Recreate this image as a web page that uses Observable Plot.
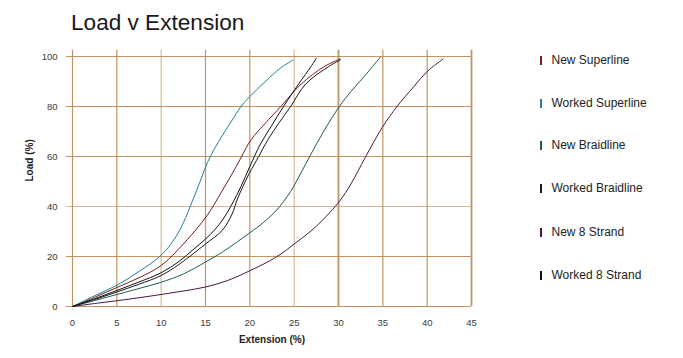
<!DOCTYPE html>
<html>
<head>
<meta charset="utf-8">
<script src="https://cdn.jsdelivr.net/npm/d3@7"></script>
<script src="https://cdn.jsdelivr.net/npm/@observablehq/plot@0.6"></script>
<style>
  html, body { margin: 0; padding: 0; background: #fff; }
  #wrap { position: relative; width: 683px; height: 358px; overflow: hidden; font-family: "Liberation Sans", Arial, sans-serif; }
  #title { position: absolute; left: 71px; top: 12px; font-size: 22.6px; line-height: 22px; color: #1a1a1a; white-space: nowrap; }
  .leg { position: absolute; left: 540px; font-size: 12px; line-height: 14px; color: #222; white-space: nowrap; }
  .leg .mk { display: inline-block; width: 1.5px; height: 9px; margin-right: 10px; vertical-align: -1px; }
  #chart { position: absolute; left: 0; top: 0; }
</style>
</head>
<body>
<div id="wrap">
  <div id="chart"></div>
  <div id="title">Load v Extension</div>
  <div id="legend"></div>
</div>
<script>
// ---- Data ----
const chartTitle = "Load v Extension";
const xLabel = "Extension (%)";
const yLabel = "Load (%)";
const xTicks = [0, 5, 10, 15, 20, 25, 30, 35, 40, 45];
const yTicks = [0, 20, 40, 60, 80, 100];

const seriesNames = ["New Superline", "Worked Superline", "New Braidline", "Worked Braidline", "New 8 Strand", "Worked 8 Strand"];
const seriesColors = ["#7a1e1e", "#23809a", "#1e5a5a", "#1a1a1a", "#4a1845", "#111111"];

const newSuperlineX = [0, 2.5, 5, 7.5, 10, 12.5, 15.2, 16.5, 17.8, 19, 20.1, 21.8, 23.5, 25.8, 28.4, 30.2];
const newSuperlineY = [0, 3.7, 7.6, 11.5, 16.4, 25, 36.5, 44, 51.8, 59.5, 66.5, 73.5, 80, 89, 96, 99];

const workedSuperlineX = [0, 2.5, 5, 7.5, 10, 11.5, 12.5, 13.5, 14.5, 15.2, 16, 17, 18, 19, 20, 21.6, 23.5, 24.9];
const workedSuperlineY = [0, 4.3, 8.5, 14, 20.5, 27, 33.5, 42, 51, 57.5, 63, 69, 74.5, 80, 84, 89.5, 95.5, 98.6];

const newBraidlineX = [0, 2.5, 5, 7.5, 10, 12.5, 15, 17, 20, 21.5, 23, 24.6, 25.7, 26.9, 28.4, 30.1, 31.4, 32.9, 34.7];
const newBraidlineY = [0, 2.4, 4.8, 7.2, 9.7, 13, 17.8, 22, 29.5, 33.5, 38.5, 46, 53, 61, 70.5, 80, 86, 92, 99.7];

const workedBraidlineX = [0, 2.5, 5, 7.5, 10, 12, 13.5, 15, 16.9, 18, 18.6, 19.9, 21, 22, 23.3, 24.6, 26.3, 28.9, 30.2];
const workedBraidlineY = [0, 2.8, 5.8, 8.9, 12.4, 16.8, 20.8, 25, 30.5, 37, 43, 53, 60, 66.5, 73.5, 80, 89, 96, 98.6];

const new8StrandX = [0, 2.5, 5, 7.5, 10, 12.5, 15, 17.5, 20, 22, 23.5, 25, 27, 29, 30.2, 31.4, 33, 35, 36.6, 38.5, 40, 41.8];
const new8StrandY = [0, 1.2, 2.3, 3.5, 4.8, 6.2, 7.8, 10.4, 14.3, 17.8, 21, 25, 30.5, 37.5, 42.5, 49, 59.5, 72, 80, 88, 94, 99];

const worked8StrandX = [0, 2.5, 5, 7.5, 10, 12, 13.7, 15, 16, 17, 18, 19, 20, 21.2, 22.4, 23.8, 25.5, 26.9, 27.5];
const worked8StrandY = [0, 3.1, 6.4, 9.8, 13.5, 18, 23, 27, 30.5, 35, 41, 48, 56, 65, 72, 80, 89, 96, 99.3];

// ---- Build table ----
const seriesXs = [newSuperlineX, workedSuperlineX, newBraidlineX, workedBraidlineX, new8StrandX, worked8StrandX];
const seriesYs = [newSuperlineY, workedSuperlineY, newBraidlineY, workedBraidlineY, new8StrandY, worked8StrandY];
const rows = [];
seriesNames.forEach((name, i) => {
  seriesXs[i].forEach((x, j) => rows.push({series: name, x, y: seriesYs[i][j]}));
});

const gridColor = "#b98a52";

const chart = Plot.plot({
  width: 683,
  height: 358,
  marginLeft: 72,
  marginRight: 212,
  marginTop: 56,
  marginBottom: 52,
  x: {domain: [0, 45]},
  y: {domain: [0, 100]},
  color: {domain: seriesNames, range: seriesColors},
  style: {fontFamily: "'Liberation Sans', Arial, sans-serif", fontSize: "9.5px", color: "#3a3a3a", background: "transparent"},
  marks: [
    Plot.ruleX(xTicks, {x: d => d, y1: 0, y2: 102.5, stroke: gridColor, strokeWidth: d => (d === 30 || d === 45) ? 1.8 : 1.2, strokeOpacity: d => (d === 10 || d === 25) ? 0.6 : 0.9}),
    Plot.ruleY(yTicks, {y: d => d, x1: -0.7, x2: 45, stroke: gridColor, strokeWidth: 1.2, strokeOpacity: d => d === 40 ? 0.6 : 0.9}),
    Plot.axisX(xTicks, {tickSize: 0, tickPadding: 13, label: null, fill: "#3a3a3a"}),
    Plot.axisY(yTicks, {tickSize: 0, tickPadding: 15, label: null, fill: "#3a3a3a"}),
    Plot.line(rows, {x: "x", y: "y", z: "series", stroke: "series", strokeWidth: 1, curve: "catmull-rom"}),
    Plot.text([xLabel], {text: d => d, frameAnchor: "bottom", dy: 36, fontWeight: "bold", fontSize: 10, fill: "#222"}),
    Plot.text([yLabel], {text: d => d, frameAnchor: "left", dx: -43, rotate: -90, fontWeight: "bold", fontSize: 10, fill: "#222"})
  ]
});
document.getElementById("chart").appendChild(chart);

// ---- Legend ----
const legendCenters = [60, 102.7, 145, 188.3, 231.7, 275];
const legend = document.getElementById("legend");
seriesNames.forEach((name, i) => {
  const d = document.createElement("div");
  d.className = "leg";
  d.style.top = (legendCenters[i] - 7) + "px";
  const mk = document.createElement("span");
  mk.className = "mk";
  mk.style.background = seriesColors[i];
  d.appendChild(mk);
  d.appendChild(document.createTextNode(name));
  legend.appendChild(d);
});
</script>
</body>
</html>
